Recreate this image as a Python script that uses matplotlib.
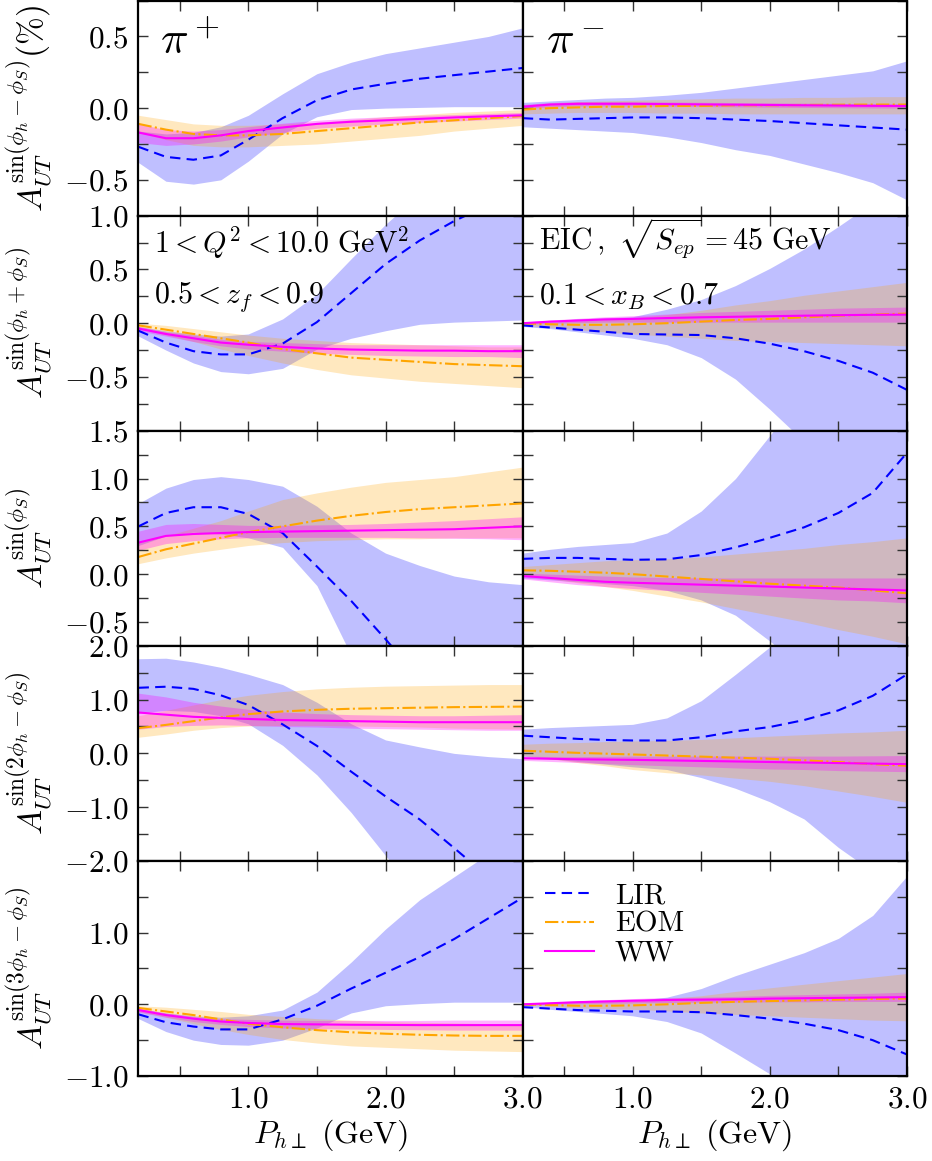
import matplotlib
matplotlib.use('Agg')
import matplotlib.pyplot as plt
from matplotlib.ticker import MultipleLocator, FixedLocator, FuncFormatter

plt.rcParams['mathtext.fontset'] = 'cm'
plt.rcParams['font.family'] = 'serif'
plt.rcParams['font.serif'] = ['cmr10', 'DejaVu Serif']
plt.rcParams['axes.formatter.use_mathtext'] = True

# ---------------- data ----------------
x_pt = [0.2, 0.4, 0.6, 0.8, 1.0, 1.25, 1.5, 1.75, 2.0, 2.25, 2.5, 2.75, 3.0]

# Row 1: sin(phi_h - phi_S)
r1L_lir    = [-0.27, -0.34, -0.36, -0.33, -0.22, -0.07, 0.055, 0.13, 0.17, 0.205, 0.23, 0.255, 0.28]
r1L_lir_lo = [-0.38, -0.51, -0.53, -0.50, -0.37, -0.18, -0.06, -0.01, 0.0, 0.005, 0.01, 0.01, 0.01]
r1L_lir_hi = [-0.16, -0.18, -0.17, -0.13, -0.05, 0.10, 0.24, 0.32, 0.38, 0.42, 0.46, 0.50, 0.56]
r1L_eom    = [-0.11, -0.15, -0.18, -0.19, -0.19, -0.18, -0.16, -0.14, -0.12, -0.10, -0.085, -0.07, -0.055]
r1L_eom_lo = [-0.17, -0.22, -0.26, -0.27, -0.27, -0.26, -0.25, -0.23, -0.21, -0.19, -0.16, -0.14, -0.12]
r1L_eom_hi = [-0.05, -0.08, -0.11, -0.12, -0.12, -0.11, -0.10, -0.08, -0.06, -0.045, -0.03, -0.02, -0.01]
r1L_ww     = [-0.17, -0.21, -0.21, -0.19, -0.16, -0.135, -0.11, -0.095, -0.085, -0.075, -0.065, -0.057, -0.05]
r1L_ww_lo  = [-0.24, -0.26, -0.25, -0.23, -0.20, -0.17, -0.14, -0.125, -0.11, -0.10, -0.09, -0.08, -0.07]
r1L_ww_hi  = [-0.11, -0.15, -0.16, -0.15, -0.13, -0.105, -0.085, -0.07, -0.06, -0.05, -0.045, -0.037, -0.03]

r1R_lir    = [-0.07, -0.08, -0.075, -0.07, -0.065, -0.065, -0.07, -0.08, -0.09, -0.105, -0.12, -0.135, -0.15]
r1R_lir_lo = [-0.13, -0.14, -0.15, -0.16, -0.17, -0.20, -0.24, -0.29, -0.33, -0.39, -0.45, -0.52, -0.64]
r1R_lir_hi = [0.04, 0.05, 0.06, 0.07, 0.075, 0.09, 0.11, 0.14, 0.17, 0.20, 0.23, 0.26, 0.33]
r1R_eom    = [-0.01, 0.0, 0.005, 0.01, 0.01, 0.015, 0.015, 0.02, 0.02, 0.022, 0.024, 0.025, 0.025]
r1R_eom_lo = [-0.04, -0.035, -0.03, -0.03, -0.03, -0.035, -0.035, -0.04, -0.04, -0.04, -0.04, -0.04, -0.04]
r1R_eom_hi = [0.02, 0.035, 0.045, 0.05, 0.055, 0.06, 0.065, 0.07, 0.07, 0.075, 0.075, 0.08, 0.08]
r1R_ww     = [0.01, 0.025, 0.03, 0.03, 0.03, 0.028, 0.026, 0.024, 0.022, 0.02, 0.018, 0.016, 0.015]
r1R_ww_lo  = [-0.005, 0.01, 0.015, 0.015, 0.015, 0.013, 0.011, 0.009, 0.007, 0.005, 0.003, 0.001, 0.0]
r1R_ww_hi  = [0.025, 0.04, 0.045, 0.045, 0.045, 0.043, 0.041, 0.039, 0.037, 0.035, 0.033, 0.031, 0.03]

# Row 2: sin(phi_h + phi_S)
r2L_lir    = [-0.07, -0.18, -0.26, -0.29, -0.29, -0.19, 0.01, 0.28, 0.55, 0.77, 0.95, 1.10, 1.30]
r2L_lir_lo = [-0.12, -0.25, -0.37, -0.45, -0.47, -0.42, -0.24, -0.14, -0.07, -0.01, 0.01, 0.02, 0.03]
r2L_lir_hi = [-0.03, -0.07, -0.10, -0.12, -0.10, 0.04, 0.27, 0.60, 0.92, 1.20, 1.45, 1.70, 2.00]
r2L_eom    = [-0.02, -0.06, -0.10, -0.14, -0.18, -0.24, -0.28, -0.32, -0.34, -0.36, -0.38, -0.39, -0.40]
r2L_eom_lo = [-0.05, -0.11, -0.17, -0.24, -0.30, -0.37, -0.43, -0.48, -0.51, -0.54, -0.56, -0.58, -0.60]
r2L_eom_hi = [0.0, -0.02, -0.05, -0.08, -0.11, -0.14, -0.16, -0.18, -0.19, -0.20, -0.21, -0.22, -0.22]
r2L_ww     = [-0.05, -0.10, -0.14, -0.18, -0.20, -0.22, -0.235, -0.245, -0.25, -0.255, -0.255, -0.26, -0.26]
r2L_ww_lo  = [-0.07, -0.12, -0.17, -0.21, -0.24, -0.26, -0.28, -0.29, -0.30, -0.305, -0.31, -0.31, -0.32]
r2L_ww_hi  = [-0.03, -0.08, -0.11, -0.15, -0.17, -0.18, -0.19, -0.20, -0.20, -0.20, -0.20, -0.20, -0.20]

r2R_lir    = [-0.02, -0.04, -0.06, -0.08, -0.10, -0.105, -0.11, -0.14, -0.19, -0.26, -0.35, -0.46, -0.62]
r2R_lir_lo = [-0.03, -0.05, -0.08, -0.11, -0.14, -0.20, -0.32, -0.52, -0.80, -1.10, -1.40, -1.70, -2.00]
r2R_lir_hi = [0.0, 0.02, 0.04, 0.05, 0.06, 0.13, 0.22, 0.35, 0.51, 0.69, 0.90, 1.12, 1.40]
r2R_eom    = [0.0, -0.01, -0.015, -0.015, -0.01, 0.0, 0.015, 0.03, 0.04, 0.055, 0.07, 0.08, 0.09]
r2R_eom_lo = [-0.02, -0.04, -0.06, -0.08, -0.10, -0.12, -0.14, -0.16, -0.17, -0.18, -0.19, -0.20, -0.21]
r2R_eom_hi = [0.0, 0.01, 0.02, 0.035, 0.05, 0.08, 0.12, 0.17, 0.21, 0.26, 0.30, 0.34, 0.38]
r2R_ww     = [0.0, 0.015, 0.025, 0.035, 0.04, 0.048, 0.055, 0.06, 0.065, 0.07, 0.075, 0.078, 0.08]
r2R_ww_lo  = [-0.01, 0.0, 0.005, 0.01, 0.01, 0.01, 0.01, 0.01, 0.01, 0.01, 0.01, 0.01, 0.01]
r2R_ww_hi  = [0.01, 0.03, 0.045, 0.06, 0.07, 0.085, 0.10, 0.11, 0.12, 0.13, 0.14, 0.145, 0.15]

# Row 3: sin(phi_S)
r3L_lir    = [0.50, 0.64, 0.70, 0.70, 0.63, 0.43, 0.08, -0.28, -0.68, -1.10, -1.55, -2.00, -2.50]
r3L_lir_lo = [0.30, 0.40, 0.44, 0.42, 0.38, 0.28, -0.12, -0.85, -1.50, -2.20, -2.90, -3.60, -4.30]
r3L_lir_hi = [0.74, 0.90, 0.99, 1.02, 0.99, 0.92, 0.71, 0.43, 0.22, 0.09, -0.02, -0.08, -0.11]
r3L_eom    = [0.18, 0.26, 0.32, 0.38, 0.44, 0.50, 0.56, 0.61, 0.65, 0.68, 0.70, 0.72, 0.74]
r3L_eom_lo = [0.11, 0.17, 0.22, 0.26, 0.30, 0.33, 0.35, 0.36, 0.37, 0.37, 0.38, 0.38, 0.38]
r3L_eom_hi = [0.33, 0.40, 0.48, 0.56, 0.66, 0.78, 0.85, 0.91, 0.96, 0.99, 1.02, 1.07, 1.12]
r3L_ww     = [0.33, 0.40, 0.42, 0.43, 0.44, 0.445, 0.45, 0.455, 0.46, 0.465, 0.47, 0.485, 0.50]
r3L_ww_lo  = [0.25, 0.32, 0.35, 0.37, 0.38, 0.385, 0.385, 0.385, 0.385, 0.38, 0.375, 0.37, 0.36]
r3L_ww_hi  = [0.45, 0.52, 0.53, 0.52, 0.51, 0.51, 0.515, 0.52, 0.53, 0.545, 0.56, 0.58, 0.60]

r3R_lir    = [0.16, 0.17, 0.17, 0.16, 0.15, 0.155, 0.20, 0.28, 0.38, 0.49, 0.64, 0.85, 1.27]
r3R_lir_lo = [-0.04, -0.06, -0.08, -0.10, -0.12, -0.17, -0.27, -0.43, -0.70, -1.00, -1.30, -1.60, -2.00]
r3R_lir_hi = [0.22, 0.26, 0.29, 0.31, 0.33, 0.43, 0.66, 1.00, 1.45, 1.90, 2.30, 2.70, 3.20]
r3R_eom    = [0.04, 0.035, 0.025, 0.015, 0.0, -0.025, -0.05, -0.075, -0.10, -0.12, -0.14, -0.17, -0.20]
r3R_eom_lo = [0.0, -0.05, -0.09, -0.13, -0.17, -0.23, -0.29, -0.36, -0.43, -0.50, -0.58, -0.65, -0.73]
r3R_eom_hi = [0.08, 0.10, 0.12, 0.14, 0.15, 0.16, 0.18, 0.21, 0.24, 0.27, 0.31, 0.34, 0.38]
r3R_ww     = [-0.02, -0.04, -0.06, -0.08, -0.09, -0.10, -0.11, -0.12, -0.13, -0.14, -0.15, -0.16, -0.17]
r3R_ww_lo  = [-0.05, -0.08, -0.11, -0.13, -0.15, -0.17, -0.19, -0.21, -0.23, -0.25, -0.27, -0.28, -0.30]
r3R_ww_hi  = [0.01, 0.0, -0.01, -0.02, -0.03, -0.035, -0.04, -0.04, -0.04, -0.04, -0.04, -0.04, -0.04]

# Row 4: sin(2 phi_h - phi_S)
r4L_lir    = [1.22, 1.24, 1.20, 1.08, 0.90, 0.54, 0.14, -0.34, -0.80, -1.23, -1.76, -2.30, -2.90]
r4L_lir_lo = [0.75, 0.80, 0.78, 0.70, 0.55, 0.15, -0.40, -1.10, -1.90, -2.70, -3.40, -4.00, -4.60]
r4L_lir_hi = [1.76, 1.77, 1.70, 1.60, 1.47, 1.28, 0.95, 0.55, 0.25, 0.12, 0.0, -0.06, -0.10]
r4L_eom    = [0.47, 0.53, 0.60, 0.67, 0.73, 0.78, 0.81, 0.83, 0.84, 0.85, 0.86, 0.865, 0.87]
r4L_eom_lo = [0.30, 0.36, 0.43, 0.48, 0.51, 0.52, 0.52, 0.51, 0.50, 0.49, 0.47, 0.46, 0.45]
r4L_eom_hi = [0.70, 0.80, 0.90, 1.00, 1.08, 1.15, 1.20, 1.23, 1.25, 1.26, 1.27, 1.28, 1.28]
r4L_ww     = [0.76, 0.72, 0.68, 0.66, 0.64, 0.62, 0.61, 0.60, 0.59, 0.58, 0.58, 0.58, 0.58]
r4L_ww_lo  = [0.45, 0.50, 0.52, 0.53, 0.52, 0.50, 0.49, 0.47, 0.46, 0.45, 0.44, 0.43, 0.43]
r4L_ww_hi  = [1.12, 1.05, 0.95, 0.88, 0.82, 0.77, 0.74, 0.72, 0.71, 0.70, 0.70, 0.71, 0.72]

r4R_lir    = [0.33, 0.30, 0.27, 0.25, 0.24, 0.24, 0.30, 0.41, 0.49, 0.62, 0.80, 1.07, 1.47]
r4R_lir_lo = [-0.05, -0.10, -0.15, -0.20, -0.25, -0.30, -0.45, -0.65, -0.90, -1.22, -1.75, -2.20, -2.60]
r4R_lir_hi = [0.45, 0.48, 0.50, 0.52, 0.54, 0.66, 0.98, 1.47, 1.98, 2.50, 3.00, 3.50, 4.00]
r4R_eom    = [0.05, 0.03, 0.01, -0.005, -0.02, -0.04, -0.06, -0.08, -0.10, -0.13, -0.16, -0.20, -0.23]
r4R_eom_lo = [-0.04, -0.10, -0.17, -0.23, -0.30, -0.36, -0.40, -0.46, -0.52, -0.60, -0.70, -0.80, -0.91]
r4R_eom_hi = [0.17, 0.19, 0.20, 0.22, 0.23, 0.24, 0.26, 0.29, 0.32, 0.35, 0.38, 0.40, 0.43]
r4R_ww     = [-0.09, -0.10, -0.11, -0.115, -0.12, -0.13, -0.14, -0.15, -0.16, -0.17, -0.18, -0.19, -0.20]
r4R_ww_lo  = [-0.13, -0.15, -0.17, -0.19, -0.21, -0.23, -0.25, -0.27, -0.29, -0.30, -0.32, -0.33, -0.34]
r4R_ww_hi  = [-0.05, -0.06, -0.06, -0.055, -0.05, -0.05, -0.05, -0.05, -0.05, -0.05, -0.05, -0.045, -0.04]

# Row 5: sin(3 phi_h - phi_S)
r5L_lir    = [-0.14, -0.25, -0.31, -0.35, -0.35, -0.21, -0.02, 0.22, 0.44, 0.66, 0.91, 1.20, 1.49]
r5L_lir_lo = [-0.20, -0.38, -0.50, -0.56, -0.57, -0.50, -0.33, -0.12, -0.02, 0.01, 0.03, 0.03, 0.03]
r5L_lir_hi = [-0.06, -0.12, -0.16, -0.18, -0.16, -0.08, 0.17, 0.59, 1.05, 1.46, 1.78, 2.10, 2.50]
r5L_eom    = [-0.05, -0.10, -0.15, -0.21, -0.27, -0.32, -0.36, -0.39, -0.41, -0.425, -0.435, -0.44, -0.44]
r5L_eom_lo = [-0.10, -0.18, -0.27, -0.35, -0.42, -0.49, -0.54, -0.58, -0.60, -0.62, -0.64, -0.65, -0.66]
r5L_eom_hi = [-0.02, -0.04, -0.07, -0.10, -0.14, -0.17, -0.20, -0.22, -0.24, -0.25, -0.26, -0.27, -0.28]
r5L_ww     = [-0.08, -0.15, -0.20, -0.24, -0.26, -0.275, -0.28, -0.285, -0.287, -0.29, -0.29, -0.29, -0.29]
r5L_ww_lo  = [-0.11, -0.18, -0.24, -0.28, -0.31, -0.33, -0.34, -0.345, -0.35, -0.355, -0.36, -0.36, -0.36]
r5L_ww_hi  = [-0.05, -0.12, -0.17, -0.20, -0.21, -0.22, -0.225, -0.225, -0.225, -0.225, -0.22, -0.22, -0.22]

r5R_lir    = [-0.04, -0.06, -0.08, -0.09, -0.10, -0.10, -0.11, -0.15, -0.20, -0.27, -0.36, -0.50, -0.70]
r5R_lir_lo = [-0.03, -0.07, -0.10, -0.13, -0.16, -0.24, -0.40, -0.68, -0.97, -1.30, -1.60, -1.90, -2.20]
r5R_lir_hi = [0.0, 0.02, 0.03, 0.04, 0.05, 0.10, 0.22, 0.40, 0.56, 0.72, 0.92, 1.24, 1.79]
r5R_eom    = [0.0, -0.01, -0.02, -0.02, -0.015, 0.0, 0.02, 0.035, 0.045, 0.055, 0.065, 0.075, 0.08]
r5R_eom_lo = [-0.01, -0.03, -0.05, -0.06, -0.07, -0.09, -0.12, -0.14, -0.16, -0.18, -0.20, -0.22, -0.23]
r5R_eom_hi = [0.01, 0.02, 0.03, 0.04, 0.05, 0.08, 0.12, 0.18, 0.23, 0.28, 0.33, 0.38, 0.43]
r5R_ww     = [0.0, 0.015, 0.03, 0.04, 0.05, 0.06, 0.065, 0.07, 0.08, 0.085, 0.09, 0.095, 0.10]
r5R_ww_lo  = [-0.01, 0.0, 0.01, 0.015, 0.02, 0.025, 0.03, 0.03, 0.035, 0.035, 0.04, 0.04, 0.04]
r5R_ww_hi  = [0.01, 0.03, 0.05, 0.065, 0.08, 0.095, 0.10, 0.11, 0.125, 0.135, 0.145, 0.155, 0.17]

row_labels = [r'$A_{UT}^{\sin(\phi_h-\phi_S)}(\%)$',
              r'$A_{UT}^{\sin(\phi_h+\phi_S)}$',
              r'$A_{UT}^{\sin(\phi_S)}$',
              r'$A_{UT}^{\sin(2\phi_h-\phi_S)}$',
              r'$A_{UT}^{\sin(3\phi_h-\phi_S)}$']
row_ylims = [(-0.75, 0.75), (-1.0, 1.0), (-0.75, 1.5), (-2.0, 2.0), (-1.0, 2.0)]
row_major = [[-0.5, 0.0, 0.5], [-0.5, 0.0, 0.5, 1.0], [-0.5, 0.0, 0.5, 1.0, 1.5],
             [-2.0, -1.0, 0.0, 1.0, 2.0], [-1.0, 0.0, 1.0]]
row_minor = [0.25, 0.25, 0.25, 0.5, 0.5]
series_names = ['LIR', 'EOM', 'WW']
x_ticks = [1.0, 2.0, 3.0]

panels = [
    [(r1L_lir, r1L_lir_lo, r1L_lir_hi, r1L_eom, r1L_eom_lo, r1L_eom_hi, r1L_ww, r1L_ww_lo, r1L_ww_hi),
     (r1R_lir, r1R_lir_lo, r1R_lir_hi, r1R_eom, r1R_eom_lo, r1R_eom_hi, r1R_ww, r1R_ww_lo, r1R_ww_hi)],
    [(r2L_lir, r2L_lir_lo, r2L_lir_hi, r2L_eom, r2L_eom_lo, r2L_eom_hi, r2L_ww, r2L_ww_lo, r2L_ww_hi),
     (r2R_lir, r2R_lir_lo, r2R_lir_hi, r2R_eom, r2R_eom_lo, r2R_eom_hi, r2R_ww, r2R_ww_lo, r2R_ww_hi)],
    [(r3L_lir, r3L_lir_lo, r3L_lir_hi, r3L_eom, r3L_eom_lo, r3L_eom_hi, r3L_ww, r3L_ww_lo, r3L_ww_hi),
     (r3R_lir, r3R_lir_lo, r3R_lir_hi, r3R_eom, r3R_eom_lo, r3R_eom_hi, r3R_ww, r3R_ww_lo, r3R_ww_hi)],
    [(r4L_lir, r4L_lir_lo, r4L_lir_hi, r4L_eom, r4L_eom_lo, r4L_eom_hi, r4L_ww, r4L_ww_lo, r4L_ww_hi),
     (r4R_lir, r4R_lir_lo, r4R_lir_hi, r4R_eom, r4R_eom_lo, r4R_eom_hi, r4R_ww, r4R_ww_lo, r4R_ww_hi)],
    [(r5L_lir, r5L_lir_lo, r5L_lir_hi, r5L_eom, r5L_eom_lo, r5L_eom_hi, r5L_ww, r5L_ww_lo, r5L_ww_hi),
     (r5R_lir, r5R_lir_lo, r5R_lir_hi, r5R_eom, r5R_eom_lo, r5R_eom_hi, r5R_ww, r5R_ww_lo, r5R_ww_hi)],
]

# ---------------- figure ----------------
fig, axes = plt.subplots(5, 2, figsize=(9.32, 11.61), dpi=100)
fig.subplots_adjust(left=0.1486, right=0.9732, top=0.9995, bottom=0.0732,
                    hspace=0.0, wspace=0.0)

c_lir, c_eom, c_ww = 'blue', 'orange', 'magenta'
fmt = FuncFormatter(lambda v, p: r'$%.1f$' % v)

for r in range(5):
    for c in range(2):
        ax = axes[r, c]
        (lir, lir_lo, lir_hi, eom, eom_lo, eom_hi, ww, ww_lo, ww_hi) = panels[r][c]
        ax.fill_between(x_pt, lir_lo, lir_hi, color=c_lir, alpha=0.25, lw=0)
        ax.fill_between(x_pt, eom_lo, eom_hi, color=c_eom, alpha=0.25, lw=0)
        ax.fill_between(x_pt, ww_lo, ww_hi, color=c_ww, alpha=0.3, lw=0)
        ax.plot(x_pt, lir, color=c_lir, ls='--', lw=1.5, dashes=(5, 3), label=series_names[0])
        ax.plot(x_pt, eom, color=c_eom, ls='-.', lw=1.5, label=series_names[1])
        ax.plot(x_pt, ww, color=c_ww, ls='-', lw=1.5, label=series_names[2])

        ax.set_xlim(0.2, 3.0)
        ax.set_ylim(*row_ylims[r])
        ax.yaxis.set_major_locator(FixedLocator(row_major[r]))
        ax.yaxis.set_minor_locator(MultipleLocator(row_minor[r]))
        ax.yaxis.set_major_formatter(fmt)
        ax.xaxis.set_major_locator(FixedLocator(x_ticks))
        ax.xaxis.set_minor_locator(MultipleLocator(0.5))
        ax.xaxis.set_major_formatter(fmt)
        ax.tick_params(which='both', direction='in', top=True, right=True,
                       labelsize=22.5, pad=7, color='#333333')
        ax.tick_params(which='major', length=7, width=1)
        ax.tick_params(which='minor', length=7, width=1)
        for sp in ax.spines.values():
            sp.set_linewidth(1.6)
        if c == 1:
            ax.tick_params(labelleft=False)
        else:
            ax.set_ylabel(row_labels[r], fontsize=24)
            ax.yaxis.set_label_coords(-0.22, 0.5)
        if r < 4:
            ax.tick_params(labelbottom=False)
        else:
            ax.set_xlabel(r'$P_{h\perp}\ (\mathrm{GeV})$', fontsize=23, labelpad=3)

axes[0, 0].text(0.055, 0.75, r'$\pi^+$', transform=axes[0, 0].transAxes, fontsize=33)
axes[0, 1].text(0.06, 0.75, r'$\pi^-$', transform=axes[0, 1].transAxes, fontsize=33)
axes[1, 0].text(0.04, 0.83, r'$1 < Q^2 < 10.0\ \mathrm{GeV}^2$',
                transform=axes[1, 0].transAxes, fontsize=21.5)
axes[1, 0].text(0.04, 0.595, r'$0.5 < z_f < 0.9$',
                transform=axes[1, 0].transAxes, fontsize=21.5)
axes[1, 1].text(0.042, 0.837, r'$\mathrm{EIC}\,,\ \sqrt{S_{ep}} = 45\ \mathrm{GeV}$',
                transform=axes[1, 1].transAxes, fontsize=21.5)
axes[1, 1].text(0.042, 0.586, r'$0.1 < x_B < 0.7$',
                transform=axes[1, 1].transAxes, fontsize=21.5)

leg = axes[4, 1].legend(loc='upper left', bbox_to_anchor=(0.0, 1.0), frameon=False,
                        fontsize=21, handlelength=1.7, labelspacing=0.08,
                        handletextpad=0.7, borderaxespad=0.35)

fig.savefig('out.png', dpi=100)
